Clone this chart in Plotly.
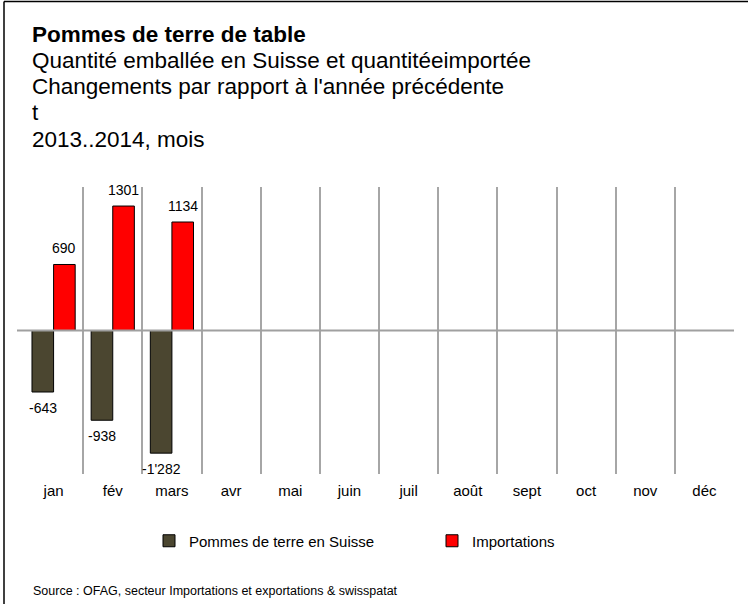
import plotly.graph_objects as go

# ---- data ----
months = ["jan", "fév", "mars", "avr", "mai", "juin", "juil", "août", "sept", "oct", "nov", "déc"]
suisse = [-643, -938, -1282]
imports = [690, 1301, 1134]
suisse_labels = ["-643", "-938", "-1'282"]
imports_labels = ["690", "1301", "1134"]
series_names = ["Pommes de terre en Suisse", "Importations"]
title_lines = [
    "<b>Pommes de terre de table</b>",
    "Quantité emballée en Suisse et quantitéeimportée",
    "Changements par rapport à l'année précédente",
    "t",
    "2013..2014, mois",
]
source_text = "Source : OFAG, secteur Importations et exportations & swisspatat"

# ---- layout geometry (pixels) ----
W, H = 748, 604
L, R, T, B = 24, 734, 187, 474
FONT = "Liberation Sans, Arial, sans-serif"


def px(x):
    return (x - L) / (R - L)


def py(y):
    return (B - y) / (B - T)


fig = go.Figure()
fig.add_bar(
    x=months[:len(suisse)], y=suisse, name=series_names[0],
    marker=dict(color="#4b4630", line=dict(color="black", width=1)),
    cliponaxis=False,
)
fig.add_bar(
    x=months[:len(imports)], y=imports, name=series_names[1],
    marker=dict(color="#ff0000", line=dict(color="black", width=1)),
    cliponaxis=False,
)

annotations = []
# value labels, placed through the axes
for i, (v, lab) in enumerate(zip(suisse, suisse_labels)):
    annotations.append(dict(
        x=months[i], y=v, xref="x", yref="y", text=lab, showarrow=False,
        xshift=-10.75, yanchor="top" if v < 0 else "bottom", yshift=-6 if v < 0 else 6,
        font=dict(size=14, color="black", family=FONT),
    ))
for i, (v, lab) in enumerate(zip(imports, imports_labels)):
    annotations.append(dict(
        x=months[i], y=v, xref="x", yref="y", text=lab, showarrow=False,
        xshift=10.75, yanchor="top" if v < 0 else "bottom", yshift=-6 if v < 0 else 6,
        font=dict(size=14, color="black", family=FONT),
    ))

centers = [34.5, 60, 86, 112.5, 139]
for line, cy in zip(title_lines, centers):
    annotations.append(dict(
        text=line, xref="paper", yref="paper", x=px(30), y=py(cy),
        xanchor="left", yanchor="middle", showarrow=False,
        font=dict(size=22.5, color="black", family=FONT),
    ))
annotations.append(dict(
    text=source_text, xref="paper", yref="paper", x=px(31), y=py(591),
    xanchor="left", yanchor="middle", showarrow=False,
    font=dict(size=12.5, color="black", family=FONT),
))

shapes = [
    # outer frame (top and left)
    dict(type="line", xref="paper", yref="paper", x0=px(4), x1=px(760), y0=py(1.5), y1=py(1.5),
         line=dict(color="black", width=1.5)),
    dict(type="line", xref="paper", yref="paper", x0=px(4), x1=px(4), y0=py(1.5), y1=py(620),
         line=dict(color="black", width=1.5)),
    # zero line
    dict(type="line", xref="paper", yref="y", x0=px(17), x1=1, y0=0, y1=0,
         line=dict(color="#a0a0a0", width=2), layer="above"),
]

fig.update_layout(
    width=W, height=H,
    margin=dict(l=L, r=W - R, t=T, b=H - B, pad=0),
    paper_bgcolor="white", plot_bgcolor="white",
    barmode="group", bargap=0.27, bargroupgap=0,
    font=dict(family=FONT, size=15, color="black"),
    showlegend=True,
    legend=dict(
        orientation="h", xref="container", yref="container",
        x=149 / W, y=(H - 541) / H, xanchor="left", yanchor="middle",
        entrywidth=238, entrywidthmode="pixels",
        font=dict(size=15, color="black", family=FONT),
        bgcolor="rgba(0,0,0,0)", itemclick=False,
    ),
    annotations=annotations,
    shapes=shapes,
    xaxis=dict(
        type="category", categoryorder="array", categoryarray=months,
        range=[-0.5, 11.5], tickson="boundaries", showgrid=True,
        gridcolor="#a6a6a6", gridwidth=1.5, ticks="", showline=False,
        tickfont=dict(size=15, color="black", family=FONT), ticklabelstandoff=6,
        fixedrange=True,
    ),
    yaxis=dict(
        range=[-1500, 1500], showgrid=False, zeroline=False,
        showticklabels=False, ticks="", showline=False, fixedrange=True,
    ),
)

fig.write_html(
    "out.html",
    config={"displayModeBar": False},
    post_script="document.body.style.margin='0px';document.body.style.overflow='hidden';",
)
